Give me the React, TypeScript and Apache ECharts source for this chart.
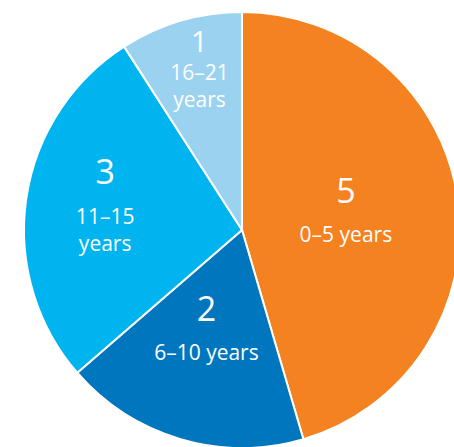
import React, { useEffect, useRef } from "react";
import * as echarts from "echarts";

const values = [5, 2, 3, 1];
const ranges = ["0–5 years", "6–10 years", "11–15\nyears", "16–21\nyears"];
const colors = ["#F58220", "#0076BE", "#00B5EF", "#9AD2F0"];
const labelOffsets: [number, number][] = [[-7, -11], [-4, -16], [-26, -16], [-11, -55]];

export default function App() {
  const ref = useRef<HTMLDivElement>(null);
  useEffect(() => {
    if (!ref.current) return;
    const chart = echarts.init(ref.current, undefined, { renderer: "svg" });
    const font = "'Open Sans', 'Noto Sans', sans-serif";
    chart.setOption({
      animation: false,
      series: [
        {
          type: "pie",
          center: [242, 230],
          radius: 218,
          startAngle: 90,
          clockwise: true,
          silent: true,
          itemStyle: { borderColor: "#ffffff", borderWidth: 2 },
          labelLine: { show: false },
          data: values.map((v, i) => {
            const lines = ranges[i].split("\n");
            const small = i === 3;
            const body = lines.map((l) => `{t|${l}}`).join("\n");
            return {
              value: v,
              name: ranges[i],
              itemStyle: { color: colors[i] },
              label: {
                show: true,
                position: "inside",
                offset: labelOffsets[i],
                formatter: `{n|${v}}\n${body}`,
                rich: {
                  n: {
                    fontSize: small ? 30 : 34,
                    lineHeight: small ? 36 : 62,
                    color: "#ffffff",
                    fontFamily: font,
                  },
                  t: {
                    fontSize: 21,
                    lineHeight: 27,
                    color: "#ffffff",
                    fontFamily: font,
                  },
                },
              },
            };
          }),
        },
      ],
    });
    return () => chart.dispose();
  }, []);
  return (
    <div
      ref={ref}
      style={{ position: "fixed", left: 0, top: 0, width: 454, height: 447, background: "#ffffff" }}
    />
  );
}
